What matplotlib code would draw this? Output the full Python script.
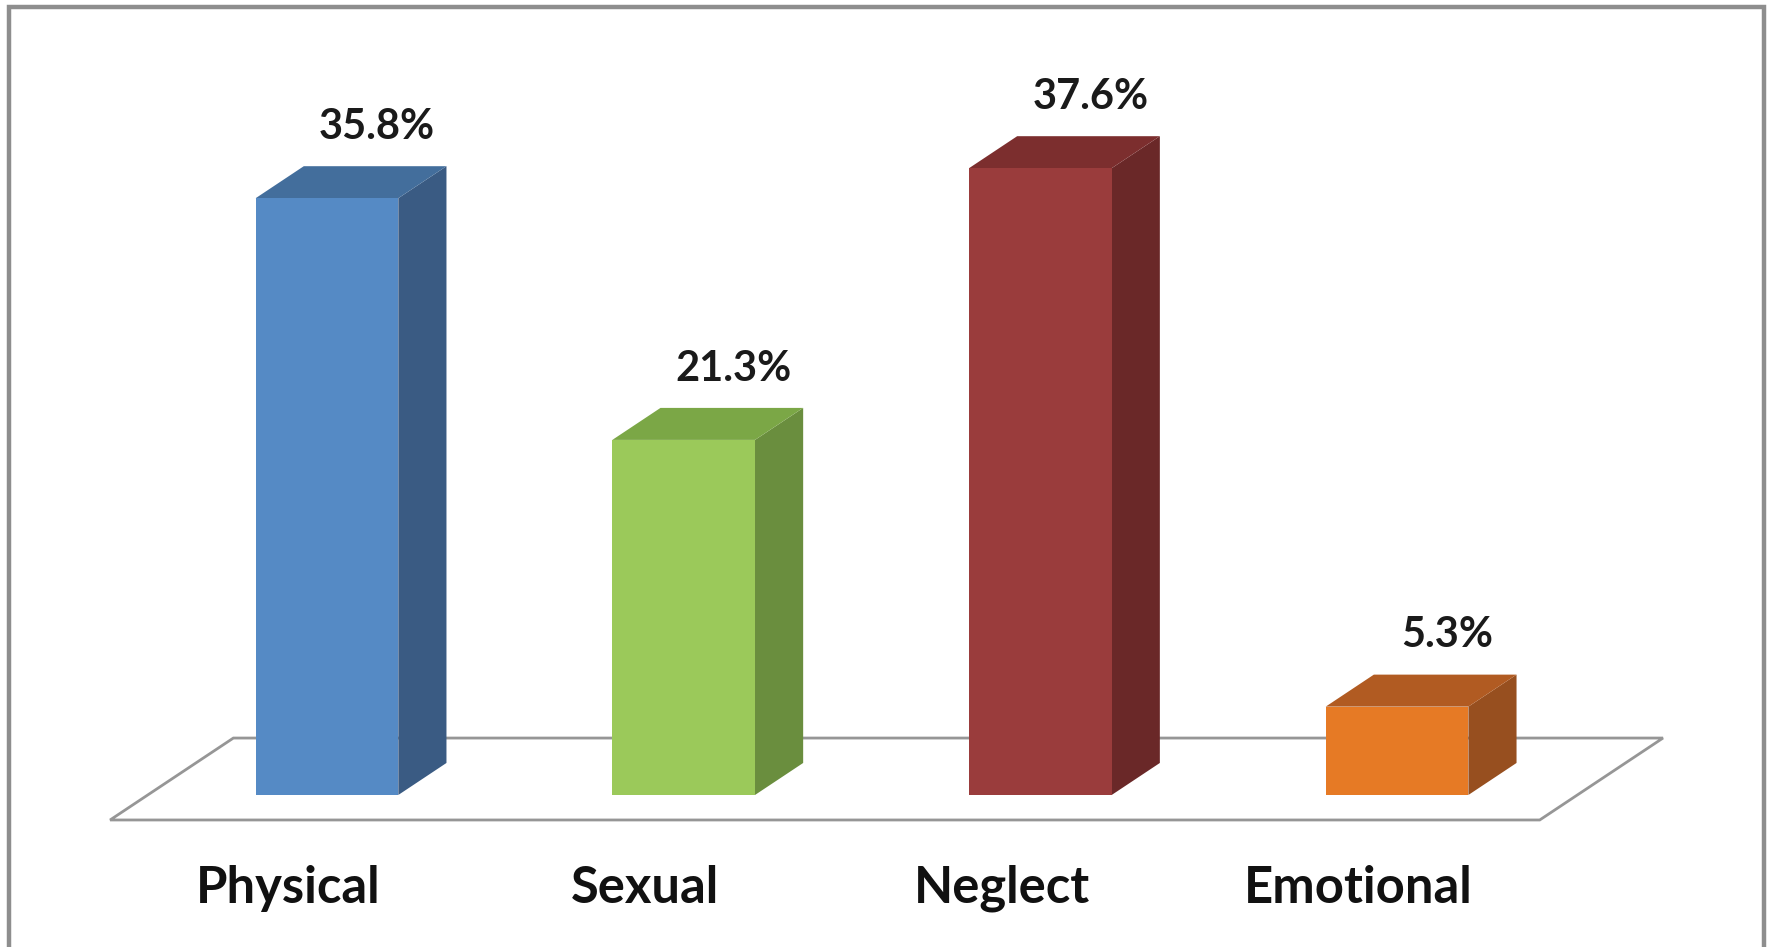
import matplotlib
matplotlib.use('Agg')
import matplotlib.pyplot as plt
from matplotlib.patches import Polygon, Rectangle

# dados do gráfico
categorias = ['Physical', 'Sexual', 'Neglect', 'Emotional']
valores = [35.8, 21.3, 37.6, 5.3]
rotulos = ['35.8%', '21.3%', '37.6%', '5.3%']

# cores: frente, topo, lateral
cores_frente = ['#558ac5', '#9bc95a', '#9a3c3c', '#e67a25']
cores_topo = ['#436e9c', '#7ba746', '#7c2e2e', '#b15b22']
cores_lado = ['#3a5b83', '#6a8e3e', '#6a2828', '#974f1f']

plt.rcParams['font.family'] = ['Lato', 'DejaVu Sans']

fig = plt.figure(figsize=(17.73, 9.47), dpi=100)
ax = fig.add_axes([0, 0, 1, 1])
ax.set_xlim(-0.9167, 4.054)
ax.set_ylim(-9.12, 47.69)
ax.axis('off')

larg = 0.4          # largura da barra
dx, dy = 0.135, 1.92  # profundidade (projeção oblíqua)
n = len(valores)

# piso
y_frente = -1.5
k = 2.56
piso = Polygon([(-0.608, y_frente), (n - 1 + 0.40, y_frente),
                (n - 1 + 0.40 + k * dx, y_frente + k * dy),
                (-0.608 + k * dx, y_frente + k * dy)],
               closed=True, facecolor='white', edgecolor='#969696',
               linewidth=2.0, zorder=1)
ax.add_patch(piso)

for i, v in enumerate(valores):
    x0 = i - larg / 2
    x1 = i + larg / 2
    # face lateral
    ax.add_patch(Polygon([(x1, 0), (x1 + dx, dy), (x1 + dx, v + dy), (x1, v)],
                         closed=True, facecolor=cores_lado[i], edgecolor='none', zorder=2))
    # topo
    ax.add_patch(Polygon([(x0, v), (x1, v), (x1 + dx, v + dy), (x0 + dx, v + dy)],
                         closed=True, facecolor=cores_topo[i], edgecolor='none', zorder=2))
    # frente
    ax.add_patch(Rectangle((x0, 0), larg, v, facecolor=cores_frente[i],
                           edgecolor='none', zorder=3))
    # rótulo do valor
    ax.text(i + 0.14, v + 3.55, rotulos[i], ha='center', va='baseline',
            fontsize=30, fontweight='bold', color='#1a1a1a', zorder=4)
    # rótulo da categoria
    ax.text(i - 0.109, -6.48, categorias[i], ha='center', va='baseline',
            fontsize=36.5, fontweight='bold', color='#111111', zorder=4)

# moldura
fig.add_artist(Rectangle((9 / 1773, -0.1), (1764 - 9) / 1773, 0.1 + (947 - 7) / 947,
                         transform=fig.transFigure, fill=False,
                         edgecolor='#8e8e8e', linewidth=3.2))

plt.savefig('out.png', dpi=100)
